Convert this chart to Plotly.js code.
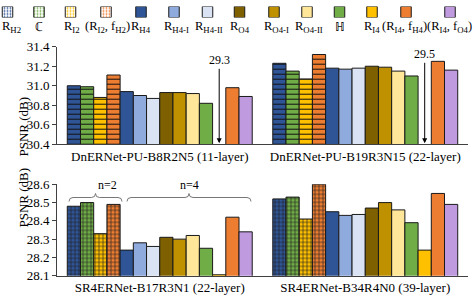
<!DOCTYPE html>
<html>
<head>
<meta charset="utf-8">
<script src="https://cdn.plot.ly/plotly-3.0.1.min.js"></script>
<style>html,body{margin:0;padding:0;background:#fff;}#chart{width:474px;height:297px;}</style>
</head>
<body>
<div id="chart"></div>
<script>
// ---------- data ----------
const categoriesTop = ['DnERNet-PU-B8R2N5 (11-layer)', 'DnERNet-PU-B19R3N15 (22-layer)'];
const categoriesBottom = ['SR4ERNet-B17R3N1 (22-layer)', 'SR4ERNet-B34R4N0 (39-layer)'];
const seriesLabels = ['R<sub>H2</sub>', 'ℂ', 'R<sub>I2</sub>', '(R<sub>I2</sub>, f<sub>H2</sub>)', 'R<sub>H4</sub>', 'R<sub>H4-I</sub>', 'R<sub>H4-II</sub>', 'R<sub>O4</sub>', 'R<sub>O4-I</sub>', 'R<sub>O4-II</sub>', 'ℍ', 'R<sub>I4</sub>', '(R<sub>I4</sub>, f<sub>H4</sub>)', '(R<sub>I4</sub>, f<sub>O4</sub>)'];
const topG1 = [31.00, 30.99, 30.88, 31.11, 30.94, 30.90, 30.87, 30.93, 30.93, 30.92, 30.82, 29.3, 30.98, 30.89];
const topG2 = [31.23, 31.15, 31.07, 31.32, 31.18, 31.17, 31.18, 31.20, 31.19, 31.15, 31.10, 29.5, 31.25, 31.16];
const botG1 = [28.48, 28.50, 28.33, 28.49, 28.24, 28.28, 28.26, 28.31, 28.30, 28.32, 28.25, 28.105, 28.42, 28.34];
const botG2 = [28.52, 28.53, 28.41, 28.60, 28.45, 28.43, 28.435, 28.47, 28.50, 28.46, 28.39, 28.24, 28.55, 28.49];
const offScaleLabels = ['29.3', '29.5'];
const offScaleIndex = 11;

// ---------- style ----------
const seriesColors = ['#2F5597', '#70AD47', '#FFC000', '#ED7D31', '#2F5597', '#8FAADC', '#DAE3F3', '#7F6000', '#BF9000', '#FFE699', '#70AD47', '#FFC000', '#ED7D31', '#C09ADF'];
const hatched = [true, true, true, true, false, false, false, false, false, false, false, false, false, false];
const legendX = [7.5, 39, 70.5, 106, 141, 174, 207.5, 239.5, 274, 307, 339.5, 372, 406, 450];
const legendTextX = [11, 39, 72, 107, 141, 176, 209, 240, 276, 309, 339.5, 372, 404, 449];

const W = 474, H = 297;
const FONT = '"Liberation Serif", serif';
const px = v => v / W;
const py = v => 1 - v / H;

const traces = [];
const N = seriesLabels.length;
for (let i = 0; i < N; i++) {
  const line = {color: '#1a1a1a', width: 1};
  traces.push({
    type: 'bar', x: [0, 1], y: [topG1[i], topG2[i]], xaxis: 'x', yaxis: 'y',
    marker: {color: seriesColors[i], line: line,
      pattern: hatched[i] ? {shape: '-', fgcolor: '#111', bgcolor: seriesColors[i], size: 5, solidity: 0.2} : {shape: ''}},
    showlegend: false, hoverinfo: 'skip'
  });
  traces.push({
    type: 'bar', x: [0, 1], y: [botG1[i], botG2[i]], xaxis: 'x2', yaxis: 'y2',
    marker: {color: seriesColors[i], line: line,
      pattern: hatched[i] ? {shape: '+', fgcolor: '#222', bgcolor: seriesColors[i], size: 4, solidity: 0.3} : {shape: ''}},
    showlegend: false, hoverinfo: 'skip'
  });
}
// legend swatches
traces.push({
  type: 'bar', x: legendX, y: legendX.map(() => 1), width: 10.5, xaxis: 'x3', yaxis: 'y3',
  marker: {color: seriesColors, line: {color: '#1a1a1a', width: 1},
    pattern: {shape: hatched.map(h => h ? '.' : ''), fgcolor: '#222', size: 3, solidity: 0.3}},
  showlegend: false, hoverinfo: 'skip'
});

const xdom = [px(57), px(468)];
const axisCommon = {
  showgrid: false, zeroline: false, showline: true, linecolor: '#404040', linewidth: 1,
  tickfont: {family: FONT, size: 13, color: '#000'}, fixedrange: true
};

const annotations = [];
// legend labels
for (let i = 0; i < N; i++) {
  annotations.push({xref: 'paper', yref: 'paper', x: px(legendTextX[i]), y: py(27), text: seriesLabels[i],
    showarrow: false, xanchor: 'center', yanchor: 'middle', font: {family: FONT, size: 12.5, color: '#000'}});
}
// off scale arrows
const groupOffset = -0.45 + (offScaleIndex + 0.5) * 0.9 / N;
annotations.push({xref: 'x', yref: 'y', x: 0 + groupOffset, y: 30.4, ax: 0, ay: -84, text: offScaleLabels[0],
  showarrow: true, arrowhead: 2, arrowsize: 1, arrowwidth: 1, arrowcolor: '#000', standoff: 1,
  font: {family: FONT, size: 12, color: '#000'}});
annotations.push({xref: 'x', yref: 'y', x: 1 + groupOffset, y: 30.4, ax: 0, ay: -90, text: offScaleLabels[1],
  showarrow: true, arrowhead: 2, arrowsize: 1, arrowwidth: 1, arrowcolor: '#000', standoff: 1,
  font: {family: FONT, size: 12, color: '#000'}});
// y titles
annotations.push({xref: 'paper', yref: 'paper', x: px(13), y: py(95), text: 'PSNR (dB)', textangle: -90,
  showarrow: false, font: {family: FONT, size: 13, color: '#000'}});
annotations.push({xref: 'paper', yref: 'paper', x: px(13), y: py(230), text: 'PSNR (dB)', textangle: -90,
  showarrow: false, font: {family: FONT, size: 13, color: '#000'}});
// brace labels
annotations.push({xref: 'paper', yref: 'paper', x: px(96), y: py(185), text: 'n=2', showarrow: false,
  font: {family: FONT, size: 12, color: '#000'}});
annotations.push({xref: 'paper', yref: 'paper', x: px(189), y: py(185), text: 'n=4', showarrow: false,
  font: {family: FONT, size: 12, color: '#000'}});

function brace(x0, x1, yTop, d) {
  const xm = (x0 + x1) / 2, r = 4;
  const P = (x, y) => px(x) + ',' + py(y);
  return 'M' + P(x0, yTop + d) + ' Q' + P(x0, yTop) + ' ' + P(x0 + r, yTop) +
    ' L' + P(xm - r, yTop) + ' Q' + P(xm, yTop) + ' ' + P(xm, yTop - d) +
    ' Q' + P(xm, yTop) + ' ' + P(xm + r, yTop) +
    ' L' + P(x1 - r, yTop) + ' Q' + P(x1, yTop) + ' ' + P(x1, yTop + d);
}
const shapes = [
  {type: 'path', xref: 'paper', yref: 'paper', path: brace(69, 122, 197.5, 4), line: {color: '#777', width: 1}},
  {type: 'path', xref: 'paper', yref: 'paper', path: brace(127, 251, 197.5, 4), line: {color: '#777', width: 1}}
];

const layout = {
  width: W, height: H, margin: {l: 0, r: 0, t: 0, b: 0},
  paper_bgcolor: '#fff', plot_bgcolor: 'rgba(0,0,0,0)',
  barmode: 'group', bargap: 0.1, bargroupgap: 0,
  showlegend: false,
  font: {family: FONT},
  xaxis: Object.assign({}, axisCommon, {domain: xdom, anchor: 'y', range: [-0.5, 1.5], tickvals: [0, 1], ticktext: categoriesTop, ticks: ''}),
  yaxis: Object.assign({}, axisCommon, {domain: [py(144.3), py(46.7)], anchor: 'x', range: [30.4, 31.4], dtick: 0.2, tick0: 30.4,
    tickformat: '.1f', ticks: 'outside', ticklen: 4, tickcolor: '#404040'}),
  xaxis2: Object.assign({}, axisCommon, {domain: xdom, anchor: 'y2', range: [-0.5, 1.5], tickvals: [0, 1], ticktext: categoriesBottom, ticks: ''}),
  yaxis2: Object.assign({}, axisCommon, {domain: [py(275.7), py(184.3)], anchor: 'x2', range: [28.1, 28.6], dtick: 0.1, tick0: 28.1,
    tickformat: '.1f', ticks: 'outside', ticklen: 4, tickcolor: '#404040'}),
  xaxis3: {domain: [0, 1], range: [0, W], visible: false, fixedrange: true, anchor: 'y3'},
  yaxis3: {domain: [py(17.5), py(6.5)], range: [0, 1], visible: false, fixedrange: true, anchor: 'x3'},
  annotations: annotations,
  shapes: shapes
};

Plotly.newPlot('chart', traces, layout, {staticPlot: true, displayModeBar: false});
</script>
</body>
</html>
